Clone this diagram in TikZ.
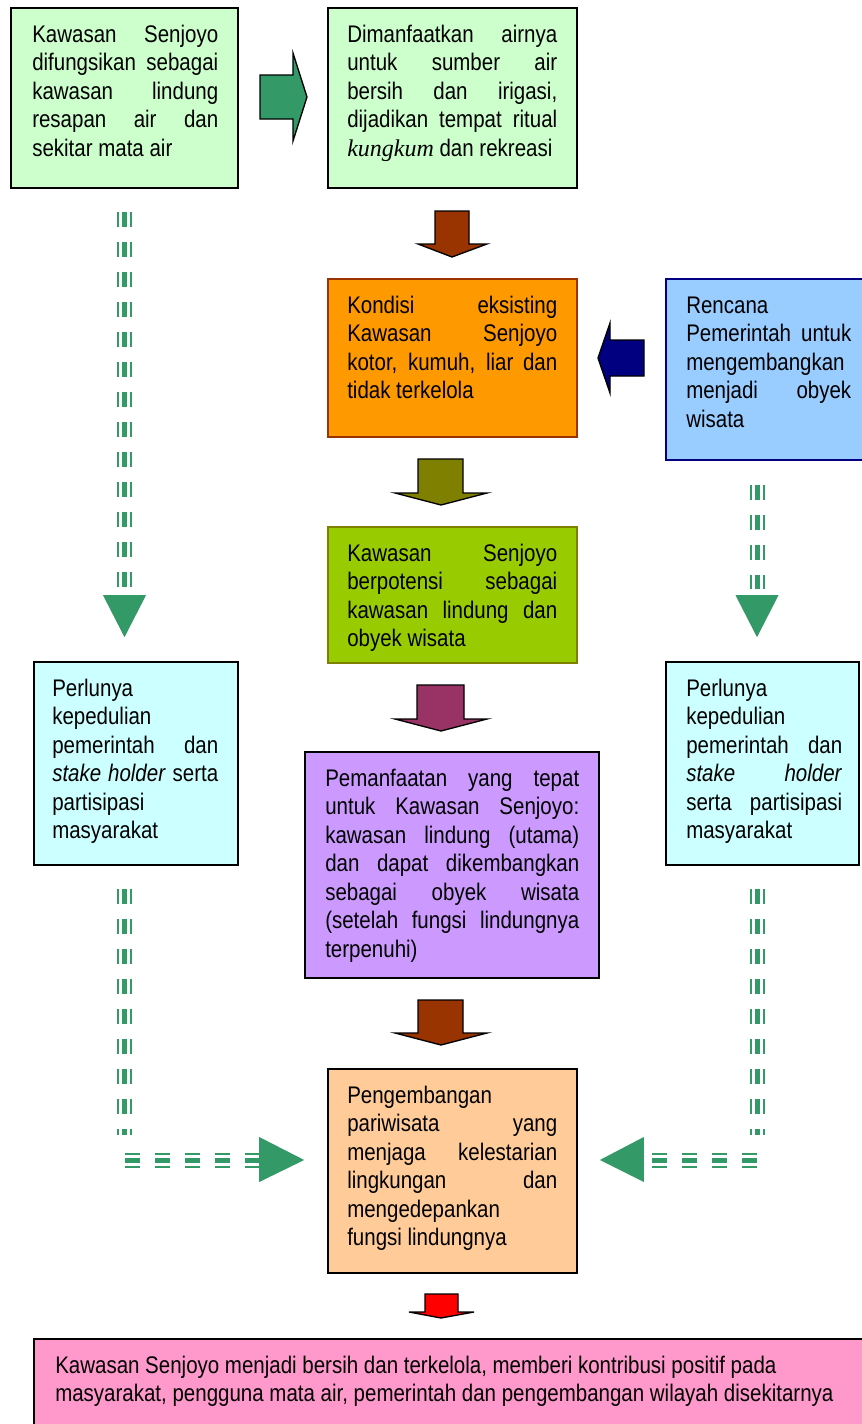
\documentclass[tikz,border=0pt]{standalone}
\usepackage{fontspec}
\setmainfont{Liberation Sans}[FakeStretch=0.854]
\newfontfamily\kfont{Liberation Serif}
\usetikzlibrary{calc,fit}
\definecolor{cLgreen}{HTML}{CCFFCC}
\definecolor{cOrange}{HTML}{FF9900}
\definecolor{cOrangeLine}{HTML}{993300}
\definecolor{cBlue}{HTML}{99CCFF}
\definecolor{cNavy}{HTML}{000080}
\definecolor{cGreen}{HTML}{99CC00}
\definecolor{cOlive}{HTML}{808000}
\definecolor{cCyan}{HTML}{CCFFFF}
\definecolor{cPurple}{HTML}{CC99FF}
\definecolor{cPeach}{HTML}{FFCC99}
\definecolor{cPink}{HTML}{FF99CC}
\definecolor{cArrow}{HTML}{339966}
\definecolor{cBrown}{HTML}{993300}
\definecolor{cMaroon}{HTML}{993366}
\definecolor{cRed}{HTML}{FF0000}
\AtBeginDocument{\hyphenpenalty=10000 \exhyphenpenalty=10000 \tolerance=10000 \hbadness=10000}
\begin{document}
\begin{tikzpicture}[x=0.75pt,y=-0.75pt,
  box/.style={draw=black, line width=1.2pt, inner sep=0pt, rectangle},
  txt/.style={inner sep=0pt, anchor=north west, align=justify,
    font=\fontsize{18}{21.4}\selectfont},
  blk/.style={draw=black, line width=1pt, line join=miter},
  tri/.style={preaction={draw=cArrow, line width=11.25pt, dash pattern=on 11.25pt off 11.25pt},
    draw=white, line width=8.25pt, dash pattern=on 11.25pt off 11.25pt,
    postaction={draw=cArrow, line width=3.75pt, dash pattern=on 11.25pt off 11.25pt}}]
\useasboundingbox[fill=white] (0,0) rectangle (861,1424);

% boxes
\node[box, fill=cLgreen, fit={(11,8) (238,188)}] (b1) {};
\node[box, fill=cLgreen, fit={(328,8) (577,188)}] (b2) {};
\node[box, fill=cOrange, draw=cOrangeLine, fit={(328,279) (577,437)}] (b3) {};
\node[box, fill=cBlue, draw=cNavy, fit={(666,279) (875,460)}] (b4) {};
\node[box, fill=cGreen, draw=cOlive, fit={(328,527) (577,663)}] (b5) {};
\node[box, fill=cCyan, fit={(34,662) (238,865)}] (b6) {};
\node[box, fill=cPurple, fit={(305,752) (599,978)}] (b7) {};
\node[box, fill=cCyan, fit={(666,662) (859,865)}] (b8) {};
\node[box, fill=cPeach, fit={(328,1069) (577,1273)}] (b9) {};
\node[box, fill=cPink, fit={(34,1339) (875,1440)}] (b10) {};

% texts
\node[txt, text width=139.5pt] (t1) at (32,22) {\strut Kawasan Senjoyo\linebreak difungsikan sebagai\linebreak kawasan lindung\linebreak resapan air dan\linebreak sekitar mata air};
\node[txt, text width=157.5pt] (t2) at (347,22) {\strut Dimanfaatkan airnya\linebreak untuk sumber air\linebreak bersih dan irigasi,\linebreak dijadikan tempat ritual\linebreak {\kfont\itshape kungkum} dan rekreasi};
\node[txt, text width=157.5pt] (t3) at (347,293) {\strut Kondisi eksisting\linebreak Kawasan Senjoyo\linebreak kotor, kumuh, liar dan\linebreak tidak terkelola};
\node[txt, text width=123.75pt] (t4) at (686,293) {\strut Rencana\linebreak Pemerintah untuk\linebreak mengembangkan\linebreak menjadi obyek\linebreak wisata};
\node[txt, text width=157.5pt] (t5) at (347,541) {\strut Kawasan Senjoyo\linebreak berpotensi sebagai\linebreak kawasan lindung dan\linebreak obyek wisata};
\node[txt, text width=124.5pt] (t6) at (52,676) {\strut Perlunya\linebreak kepedulian\linebreak pemerintah dan\linebreak \textit{stake holder} serta\linebreak partisipasi\linebreak masyarakat};
\node[txt, text width=190.5pt] (t7) at (325,766) {\strut Pemanfaatan yang tepat\linebreak untuk Kawasan Senjoyo:\linebreak kawasan lindung (utama)\linebreak dan dapat dikembangkan\linebreak sebagai obyek wisata\linebreak (setelah fungsi lindungnya\linebreak terpenuhi)};
\node[txt, text width=117pt] (t8) at (686,676) {\strut Perlunya\linebreak kepedulian\linebreak pemerintah dan\linebreak \textit{stake holder}\linebreak serta partisipasi\linebreak masyarakat};
\node[txt, text width=157.5pt] (t9) at (347,1083) {\strut Pengembangan\linebreak pariwisata yang\linebreak menjaga kelestarian\linebreak lingkungan dan\linebreak mengedepankan\linebreak fungsi lindungnya};
\node[txt, align=left] (t10) at (55,1353) {\strut Kawasan Senjoyo menjadi bersih dan terkelola, memberi kontribusi positif pada\\masyarakat, pengguna mata air, pemerintah dan pengembangan wilayah disekitarnya};

% block arrows
\filldraw[blk, fill=cArrow] (260,75) -- (293,75) -- (293,53) -- (307,97) -- (293,141) -- (293,119) -- (260,119) -- cycle;
\filldraw[blk, fill=cBrown] (435,211) -- (469,211) -- (469,244) -- (487,244) -- (452,257) -- (418,244) -- (435,244) -- cycle;
\filldraw[blk, fill=cNavy] (644,340) -- (610,340) -- (610,323) -- (598,358) -- (610,393) -- (610,376) -- (644,376) -- cycle;
\filldraw[blk, fill=cOlive] (418,459) -- (463,459) -- (463,493) -- (487,493) -- (441,505) -- (395,493) -- (418,493) -- cycle;
\filldraw[blk, fill=cMaroon] (417,685) -- (464,685) -- (464,719) -- (487,719) -- (441,731) -- (395,719) -- (417,719) -- cycle;
\filldraw[blk, fill=cBrown] (418,1000) -- (463,1000) -- (463,1033) -- (487,1033) -- (441,1045) -- (395,1033) -- (418,1033) -- cycle;
\filldraw[blk, fill=cRed] (425,1294) -- (458,1294) -- (458,1312) -- (474,1312) -- (441,1318) -- (409,1312) -- (425,1312) -- cycle;

% dashed connectors: left top
\coordinate (p1) at ($(b1.south)+(0,23)$);
\coordinate (q1) at (p1 |- {$(b6.north)+(0,-72)$});
\draw[tri] (p1) -- (q1);
\fill[cArrow] ($(q1)+(-21.5,6)$) -- ($(q1)+(21.5,6)$) -- ($(q1)+(0,48)$) -- cycle;

% right top
\coordinate (p2) at ($(b4.south)+(-13.5,24)$);
\coordinate (q2) at (p2 |- q1);
\draw[tri] (p2) -- (q2);
\fill[cArrow] ($(q2)+(-21.5,6)$) -- ($(q2)+(21.5,6)$) -- ($(q2)+(0,48)$) -- cycle;

% left bottom
\coordinate (p3) at ($(p1 |- b6.south)+(0,23)$);
\coordinate (c3) at (p3 |- b9.center);
\draw[tri] (p3) -- ($(c3)+(0,-36)$);
\coordinate (e3) at ($(b9.west)+(-68,-11)$);
\draw[tri] ($(c3)+(0,-11)$) -- (e3);
\fill[cArrow] ($(e3)+(0,-23)$) -- ($(e3)+(0,22)$) -- ($(e3)+(45,0)$) -- cycle;

% right bottom
\coordinate (p4) at ($(p2 |- b8.south)+(0,23)$);
\coordinate (c4) at (p4 |- b9.center);
\draw[tri] (p4) -- ($(c4)+(0,-36)$);
\coordinate (e4) at ($(b9.east)+(66,-11)$);
\draw[tri] ($(c4)+(0,-11)$) -- (e4);
\fill[cArrow] ($(e4)+(0,-23)$) -- ($(e4)+(0,22)$) -- ($(e4)+(-44,0)$) -- cycle;
\end{tikzpicture}
\end{document}
